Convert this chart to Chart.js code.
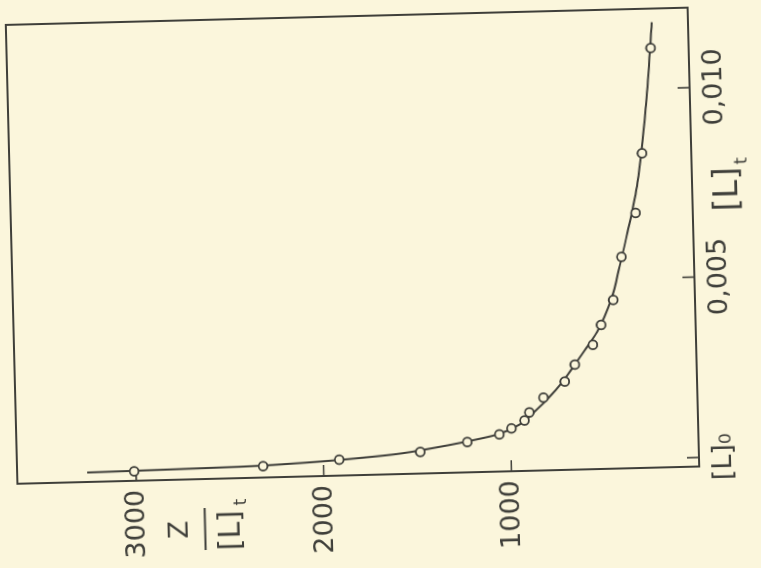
<!DOCTYPE html>
<html>
<head>
<meta charset="utf-8">
<script src="https://cdn.jsdelivr.net/npm/chart.js@4.4.1/dist/chart.umd.min.js"></script>
<style>
  html, body { margin: 0; padding: 0; width: 761px; height: 568px; overflow: hidden; background: #fbf6dc; }
  /* the scanned figure is turned a quarter turn (plus a slight skew) */
  #wrap { position: absolute; left: 96.5px; top: -96.5px; width: 568px; height: 761px; transform: rotate(-91.45deg); }
  canvas { display: block; }
</style>
</head>
<body>
<div id="wrap"><canvas id="chart" width="568" height="761"></canvas></div>
<script>
// measured points: [L]t and Z/[L]t
const ligandTotal = [0.00025, 0.00030, 0.00042, 0.00057, 0.00080, 0.00098, 0.00113, 0.00133, 0.00154, 0.00192,
  0.00233, 0.00277, 0.00328, 0.00380, 0.00445, 0.00558, 0.00673, 0.00830, 0.01107]
const zRatio = [3010, 2322, 1916, 1484, 1232, 1060, 995, 924, 897, 820,
  705, 649, 550, 504, 436, 386, 305, 263, 203]

// fitted curve
const fitLigand = [0.00025, 0.00027, 0.00030, 0.00035, 0.00040, 0.00046, 0.00053, 0.00066, 0.00080, 0.00098,
  0.00123, 0.00160, 0.00190, 0.00230, 0.00277, 0.00320, 0.00362, 0.00448, 0.00537, 0.00623, 0.00754, 0.00964, 0.01175]
const fitZ = [3260, 2900, 2450, 2160, 1960, 1780, 1610, 1420, 1250, 1070,
  950, 860, 795, 720, 649, 585, 525, 445, 395, 350, 290, 233, 193]

const xTicks = [0.00024, 0.005, 0.010]
const xTickLabels = ['[L]₀', '0,005', '0,010']
const yTicks = [1000, 2000, 3000]

const ink = '#3f3f3a'
const paper = '#fbf6dc'
const labelFont = 'DejaVu Sans, Liberation Sans, sans-serif'

const framePlugin = {
  id: 'frame',
  beforeDatasetsDraw(chart) {
    const { ctx, chartArea: a, scales: { x, y } } = chart
    ctx.save()
    ctx.strokeStyle = ink
    ctx.lineWidth = 2
    ctx.strokeRect(a.left, a.top, a.right - a.left, a.bottom - a.top)
    ctx.lineWidth = 1.6
    ctx.beginPath()
    xTicks.forEach(v => {
      const px = x.getPixelForValue(v)
      ctx.moveTo(px, a.bottom)
      ctx.lineTo(px, a.bottom - 12)
    })
    yTicks.forEach(v => {
      const py = y.getPixelForValue(v)
      ctx.moveTo(a.left, py)
      ctx.lineTo(a.left + 11, py)
    })
    ctx.stroke()
    ctx.restore()
  },
  afterDraw(chart) {
    const { ctx, chartArea: a, scales: { x, y } } = chart
    ctx.save()
    ctx.fillStyle = ink
    ctx.strokeStyle = ink
    ctx.textBaseline = 'middle'

    // y title: Z over [L]t
    const cx = a.left - 50
    const barY = y.getPixelForValue(2640)
    ctx.textAlign = 'center'
    ctx.font = '26px ' + labelFont
    ctx.fillText('Z', cx, barY - 24)
    ctx.lineWidth = 2
    ctx.beginPath()
    ctx.moveTo(cx - 21, barY)
    ctx.lineTo(cx + 21, barY)
    ctx.stroke()
    ctx.font = '30px ' + labelFont
    ctx.fillText('[L]', cx - 2, barY + 27)
    ctx.font = '17px ' + labelFont
    ctx.fillText('t', cx + 26, barY + 37)

    // x title: [L]t
    const tx = x.getPixelForValue(0.0074)
    const ty = a.bottom + 36
    ctx.font = '33px ' + labelFont
    ctx.fillText('[L]', tx - 4, ty)
    ctx.font = '18px ' + labelFont
    ctx.fillText('t', tx + 24, ty + 14)
    ctx.restore()
  }
}

new Chart(document.getElementById('chart'), {
  type: 'scatter',
  data: {
    datasets: [
      {
        data: ligandTotal.map((v, i) => ({ x: v, y: zRatio[i] })),
        pointRadius: 4.4,
        pointBorderWidth: 1.8,
        pointBorderColor: ink,
        pointBackgroundColor: paper,
        order: 0
      },
      {
        data: fitLigand.map((v, i) => ({ x: v, y: fitZ[i] })),
        showLine: true,
        pointRadius: 0,
        borderColor: ink,
        borderWidth: 2,
        cubicInterpolationMode: 'monotone',
        order: 1
      }
    ]
  },
  options: {
    responsive: false,
    devicePixelRatio: 1,
    animation: false,
    layout: { padding: { left: 0, top: 12, right: 15, bottom: 0 } },
    plugins: { legend: { display: false }, tooltip: { enabled: false } },
    scales: {
      x: {
        type: 'linear',
        min: 0,
        max: 0.01211,
        grid: { display: false, drawTicks: false },
        border: { display: false },
        afterFit: scale => { scale.height = 67 },
        afterBuildTicks: scale => { scale.ticks = xTicks.map(v => ({ value: v })) },
        ticks: {
          padding: 9,
          maxRotation: 0,
          color: ink,
          font: { family: labelFont, size: 27 },
          callback: value => xTickLabels[xTicks.indexOf(value)]
        }
      },
      y: {
        type: 'linear',
        min: 0,
        max: 3633,
        grid: { display: false, drawTicks: false },
        border: { display: false },
        afterFit: scale => {
          scale.width = 94
          scale.paddingTop = 0
          scale.paddingBottom = 0
        },
        afterBuildTicks: scale => { scale.ticks = yTicks.map(v => ({ value: v })) },
        ticks: {
          padding: 9,
          color: ink,
          font: { family: labelFont, size: 27 },
          callback: value => String(value)
        }
      }
    }
  },
  plugins: [framePlugin]
})
</script>
</body>
</html>
